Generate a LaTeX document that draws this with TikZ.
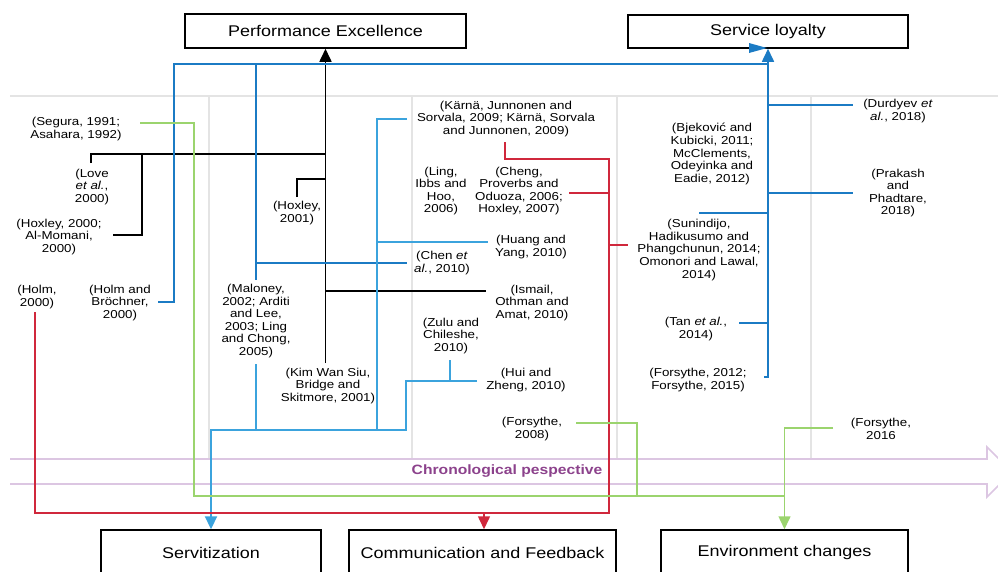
\documentclass[tikz,border=0pt]{standalone}
\usepackage{fontspec}
\setmainfont{Liberation Sans}[FakeStretch=1.16]
\usetikzlibrary{arrows.meta}
\definecolor{gridgray}{RGB}{228,228,228}
\definecolor{dblue}{RGB}{27,123,196}
\definecolor{lblue}{RGB}{59,163,221}
\definecolor{cred}{RGB}{208,40,60}
\definecolor{cgreen}{RGB}{155,212,110}
\definecolor{bandpurple}{RGB}{220,198,226}
\definecolor{textpurple}{RGB}{140,66,140}
\tikzset{
  cite/.style={align=center, inner sep=0pt, font=\fontsize{11.5}{12.6}\selectfont},
  titlebox/.style={draw=black, line width=1.5pt, inner sep=0pt, font=\fontsize{15.5}{18}\selectfont},
  gridline/.style={draw=gridgray, line width=1.5pt},
  blk/.style={draw=black, line width=1.6pt},
  dbl/.style={draw=dblue, line width=1.6pt},
  lbl/.style={draw=lblue, line width=1.6pt},
  rdl/.style={draw=cred, line width=1.5pt},
  grl/.style={draw=cgreen, line width=1.5pt},
  tip/.style={-{Triangle[length=13pt,width=12pt]}}
}
\begin{document}
\begin{tikzpicture}[x=1pt,y=-1pt]
\useasboundingbox (0,0) rectangle (998,571);
% grid
\draw[gridline] (10,96) -- (998,96);
\foreach \gx in {209,412,617,811} \draw[gridline] (\gx,96) -- (\gx,459);
% chronological band
\draw[draw=bandpurple, line width=1.6pt] (10,459) -- (987,459) -- (987,447) -- (1012,472) -- (987,497) -- (987,484) -- (10,484);
\node[font=\fontsize{13.5}{15}\selectfont\bfseries, text=textpurple, inner sep=0pt] (chrono) at (507,471) {Chronological pespective};

% boxes
\node[titlebox, minimum width=281pt, minimum height=34pt] (pe) at (325.5,31) {Performance Excellence};
\node[titlebox, minimum width=280pt, minimum height=33pt] (sl) at (768,31.5) {Service loyalty};
\node[titlebox, minimum width=220pt, minimum height=45pt] (serv) at (211,552.5) {Servitization};
\node[titlebox, minimum width=267pt, minimum height=45pt] (comm) at (482.5,552.5) {Communication and Feedback};
\node[titlebox, minimum width=247pt, minimum height=45pt] (env) at (784.5,552.5) {Environment changes};

% citations
\node[cite] (segura) at (76,129) {(Segura, 1991;\\Asahara, 1992)};
\node[cite] (love) at (92,187) {(Love\\\textit{et al.},\\2000)};
\node[cite] (hox00) at (59,237) {(Hoxley, 2000;\\Al-Momani,\\2000)};
\node[cite] (holm) at (37,297) {(Holm,\\2000)};
\node[cite] (holmb) at (120,303) {(Holm and\\Bröchner,\\2000)};
\node[cite] (hox01) at (297,213) {(Hoxley,\\2001)};
\node[cite] (malo) at (256,321) {(Maloney,\\2002; Arditi\\and Lee,\\2003; Ling\\and Chong,\\2005)};
\node[cite] (kim) at (328,386) {(Kim Wan Siu,\\Bridge and\\Skitmore, 2001)};
\node[cite] (karna) at (506,119) {(Kärnä, Junnonen and\\Sorvala, 2009; Kärnä, Sorvala\\and Junnonen, 2009)};
\node[cite] (ling) at (441,191) {(Ling,\\Ibbs and\\Hoo,\\2006)};
\node[cite] (cheng) at (519,191) {(Cheng,\\Proverbs and\\Oduoza, 2006;\\Hoxley, 2007)};
\node[cite] (huang) at (531,247) {(Huang and\\Yang, 2010)};
\node[cite] (chen) at (442,263) {(Chen \textit{et}\\\textit{al.}, 2010)};
\node[cite] (ismail) at (532,303) {(Ismail,\\Othman and\\Amat, 2010)};
\node[cite] (zulu) at (451,336) {(Zulu and\\Chileshe,\\2010)};
\node[cite] (hui) at (526,380) {(Hui and\\Zheng, 2010)};
\node[cite] (fors08) at (532,429) {(Forsythe,\\2008)};
\node[cite] (bjek) at (712,154) {(Bjeković and\\Kubicki, 2011;\\McClements,\\Odeyinka and\\Eadie, 2012)};
\node[cite] (sunin) at (699,250) {(Sunindijo,\\Hadikusumo and\\Phangchunun, 2014;\\Omonori and Lawal,\\2014)};
\node[cite] (tan) at (696,329) {(Tan \textit{et al.},\\2014)};
\node[cite] (fors12) at (698,380) {(Forsythe, 2012;\\Forsythe, 2015)};
\node[cite] (durd) at (898,111) {(Durdyev \textit{et}\\\textit{al.}, 2018)};
\node[cite] (prak) at (898,193) {(Prakash\\and\\Phadtare,\\2018)};
\node[cite] (fors16) at (881,429) {(Forsythe,\\2016};

% junction coordinates
\coordinate (petrunk) at (325.5,363);
\coordinate (sltrunk) at (768,377);

% black -> Performance Excellence
\draw[blk] (91,163) |- (325.5,154);
\draw[blk] (113,235) -| (142,154);
\draw[blk] (297,197) |- (325.5,179);
\draw[blk] (325.5,291) -- (486,291);
\draw[blk, tip] (petrunk) -- (pe.south);

% dark blue -> Service loyalty
\draw[dbl] (158,302) -| (174,64) -- (768,64);
\draw[dbl] (256,64) -- (256,280);
\draw[dbl] (256,263) -- (407,263);
\draw[dbl, tip] (764,377) -- (sltrunk) -- (sl.south);
\fill[dblue] (749,43) -- (767,48) -- (749,53) -- cycle;
\draw[dbl] (768,105) -- (853,105);
\draw[dbl] (768,193) -- (853,193);
\draw[dbl] (699,213) -- (768,213);
\draw[dbl] (739,323) -- (768,323);

% light blue -> Servitization
\draw[lbl] (407,119) -| (377,430);
\draw[lbl] (377,242) -- (488,242);
\draw[lbl] (256,364) -- (256,430);
\draw[lbl] (450,360) -- (450,381);
\draw[lbl, line width=2.2pt, tip] (477,381) -- (406,381) -- (406,430) -- (211,430) -- (serv.north);

% red -> Communication and Feedback
\draw[rdl] (505,142) |- (609,159) |- (35,513) -- (35,312);
\draw[rdl] (569,193) -- (609,193);
\draw[rdl] (609,245) -- (628,245);
\draw[rdl, tip] (484,513) -- (comm.north -| 484,0);

% green -> Environment changes
\draw[grl] (140,123) -| (194,496) -- (785,496);
\draw[grl] (576,423) -| (637,496);
\draw[grl, tip] (833,428) -| (env.north);
\end{tikzpicture}
\end{document}
